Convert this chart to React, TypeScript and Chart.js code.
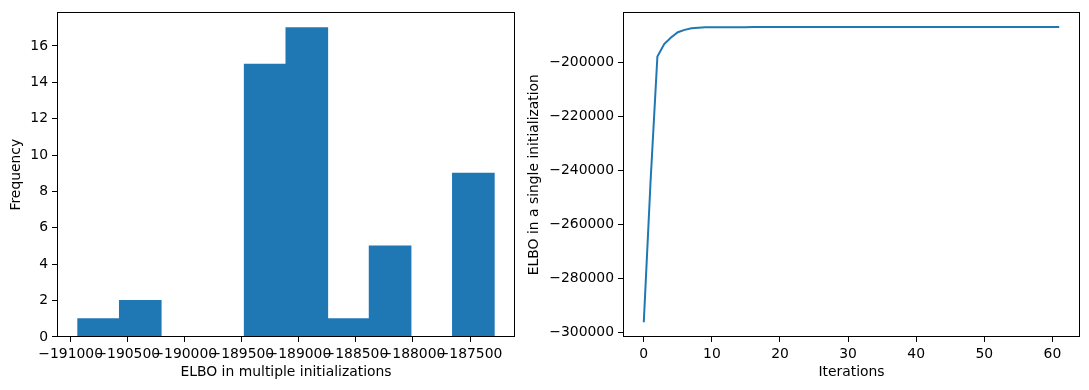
import React, { useEffect, useRef } from "react";
import { Chart, registerables } from "chart.js";

Chart.register(...registerables);

// ---------- data ----------
const binEdges = [
  -190937.5, -190572.6, -190207.7, -189842.8, -189477.9, -189113.0,
  -188748.1, -188383.2, -188018.3, -187653.4, -187288.5,
];
const binCounts = [1, 2, 0, 0, 15, 17, 1, 5, 0, 9];
const histXTicks = [-191000, -190500, -190000, -189500, -189000, -188500, -188000, -187500];
const histYTicks = [0, 2, 4, 6, 8, 10, 12, 14, 16];

const elboTrace = [
  -296300, -244000, -197950, -193350, -190900, -188950, -188070, -187500, -187250, -187150,
  -187110, -187090, -187078, -187070, -187065, -187061, -187058, -187056, -187054, -187053,
  -187052, -187052, -187051, -187051, -187051, -187050, -187050, -187050, -187050, -187050,
  -187050, -187050, -187050, -187050, -187050, -187050, -187050, -187050, -187050, -187050,
  -187050, -187050, -187050, -187050, -187050, -187050, -187050, -187050, -187050, -187050,
  -187050, -187050, -187050, -187050, -187050, -187050, -187050, -187050, -187050, -187050,
  -187050, -187050,
];
const lineXTicks = [0, 10, 20, 30, 40, 50, 60];
const lineYTicks = [-300000, -280000, -260000, -240000, -220000, -200000];

const histXLabel = "ELBO in multiple initializations";
const histYLabel = "Frequency";
const lineXLabel = "Iterations";
const lineYLabel = "ELBO in a single initialization";

// ---------- style ----------
const C0 = "#1f77b4";
const FONT = { family: "'DejaVu Sans', sans-serif", size: 13.9 };

const fmt = (v: number) => (v < 0 ? "\u2212" + Math.abs(v) : String(v));

const framePlugin = {
  id: "frame",
  afterDraw(chart: any) {
    const { ctx, chartArea } = chart;
    const l = Math.floor(chartArea.left) + 0.5;
    const t = Math.floor(chartArea.top) + 0.5;
    const r = Math.ceil(chartArea.right) - 0.5;
    const b = Math.ceil(chartArea.bottom) - 0.5;
    ctx.save();
    ctx.strokeStyle = "#000";
    ctx.lineWidth = 1;
    ctx.strokeRect(l, t, r - l, b - t);
    ctx.restore();
  },
};

function axis(
  min: number,
  max: number,
  ticks: number[],
  title: string,
  isX: boolean,
  fitSize: number,
  titlePad: any
) {
  return {
    type: "linear",
    position: isX ? "bottom" : "left",
    offset: false,
    min,
    max,
    afterBuildTicks: (s: any) => {
      s.ticks = ticks.map((v) => ({ value: v }));
    },
    afterFit: (s: any) => {
      if (isX) s.height = fitSize;
      else s.width = fitSize;
    },
    grid: {
      display: true,
      offset: false,
      drawOnChartArea: false,
      drawTicks: true,
      tickLength: 5,
      tickWidth: 1,
      tickColor: "#000",
      color: "#000",
    },
    border: { display: false },
    ticks: {
      autoSkip: false,
      maxRotation: 0,
      minRotation: 0,
      padding: 4,
      color: "#000",
      font: FONT,
      callback: (v: any) => fmt(Number(v)),
    },
    title: {
      display: true,
      text: title,
      color: "#000",
      font: FONT,
      padding: titlePad,
    },
  };
}

function useChart(ref: React.RefObject<HTMLCanvasElement>, make: () => any) {
  useEffect(() => {
    if (!ref.current) return;
    const chart = new Chart(ref.current, make());
    return () => chart.destroy();
  }, []);
}

export default function App() {
  const leftRef = useRef<HTMLCanvasElement>(null);
  const rightRef = useRef<HTMLCanvasElement>(null);

  useChart(leftRef, () => {
    const centers = binCounts.map((_, i) => (binEdges[i] + binEdges[i + 1]) / 2);
    const lo = binEdges[0];
    const hi = binEdges[binEdges.length - 1];
    const span = hi - lo;
    const ymax = Math.max(...binCounts) * 1.05;
    return {
      type: "bar",
      data: {
        datasets: [
          {
            data: centers.map((c, i) => ({ x: c, y: binCounts[i] })),
            backgroundColor: C0,
            borderWidth: 0,
            inflateAmount: 0.5,
            barPercentage: 1,
            categoryPercentage: 1,
            grouped: false,
          },
        ],
      },
      options: {
        responsive: false,
        animation: false,
        events: [],
        layout: { padding: { left: 0, right: 5, top: 10, bottom: 0 } },
        plugins: { legend: { display: false }, tooltip: { enabled: false } },
        scales: {
          x: axis(lo - 0.05 * span, hi + 0.05 * span, histXTicks, histXLabel, true, 53, { top: 0, bottom: 9 }),
          y: axis(0, ymax, histYTicks, histYLabel, false, 57, { top: 8, bottom: 0 }),
        },
      },
      plugins: [framePlugin],
    };
  });

  useChart(rightRef, () => {
    const n = elboTrace.length - 1;
    const ymin = Math.min(...elboTrace);
    const ymaxv = Math.max(...elboTrace);
    const ys = ymaxv - ymin;
    return {
      type: "line",
      data: {
        datasets: [
          {
            data: elboTrace.map((v, i) => ({ x: i, y: v })),
            borderColor: C0,
            borderWidth: 2,
            pointRadius: 0,
            tension: 0,
            fill: false,
          },
        ],
      },
      options: {
        responsive: false,
        animation: false,
        events: [],
        layout: { padding: { left: 0, right: 9, top: 10, bottom: 0 } },
        plugins: { legend: { display: false }, tooltip: { enabled: false } },
        scales: {
          x: axis(-0.05 * n, n * 1.05, lineXTicks, lineXLabel, true, 53, { top: 0, bottom: 9 }),
          y: axis(ymin - 0.05 * ys, ymaxv + 0.05 * ys, lineYTicks, lineYLabel, false, 103, { top: 6, bottom: 0 }),
        },
      },
      plugins: [framePlugin],
    };
  });

  return (
    <div
      style={{
        position: "absolute",
        left: 0,
        top: 0,
        width: 1089,
        height: 390,
        background: "#fff",
        overflow: "hidden",
      }}
    >
      <canvas
        ref={leftRef}
        width={520}
        height={390}
        style={{ position: "absolute", left: 0, top: 0, width: 520, height: 390, display: "block" }}
      />
      <canvas
        ref={rightRef}
        width={569}
        height={390}
        style={{ position: "absolute", left: 520, top: 0, width: 569, height: 390, display: "block" }}
      />
    </div>
  );
}
